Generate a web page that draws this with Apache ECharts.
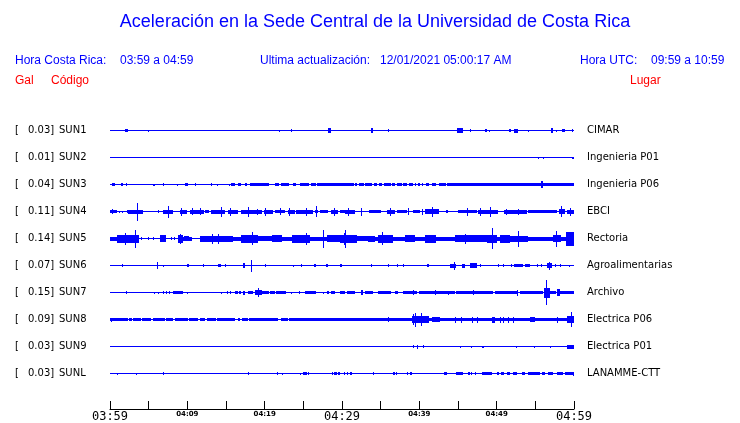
<!DOCTYPE html>
<html><head><meta charset="utf-8">
<script src="https://cdn.jsdelivr.net/npm/echarts@6/dist/echarts.min.js"></script>
<style>html,body{margin:0;padding:0;background:#fff}#c{width:740px;height:423px}</style>
</head><body><div id="c"></div>
<script>
// ---- Texts ----
const titleText = 'Aceleración en la Sede Central de la Universidad de Costa Rica';
const crLabel = 'Hora Costa Rica:';
const crRange = '03:59 a 04:59';
const updLabel = 'Ultima actualización:';
const updValue = '12/01/2021 05:00:17 AM';
const utcLabel = 'Hora UTC:';
const utcRange = '09:59 a 10:59';
const colGal = 'Gal';
const colCode = 'Código';
const colPlace = 'Lugar';

// ---- Stations ----
const stationCodes = ['SUN1','SUN2','SUN3','SUN4','SUN5','SUN6','SUN7','SUN8','SUN9','SUNL'];
const peakGal = ['0.03','0.01','0.04','0.11','0.14','0.07','0.15','0.09','0.03','0.03'];
const placeNames = ['CIMAR','Ingenieria P01','Ingenieria P06','EBCI','Rectoria','Agroalimentarias','Archivo','Electrica P06','Electrica P01','LANAMME-CTT'];

// ---- Time axis (minutes after 03:59) ----
const timeTicks = [0,5,10,15,20,25,30,35,40,45,50,55,60];
const timeTickLabels = ['03:59','','04:09','','04:19','','04:29','','04:39','','04:49','','04:59'];
const majorTickLabels = ['03:59','04:29','04:59'];

// ---- Trace envelopes: [start minute, end minute, half amplitude] ----
const sun1 = [[2.0,2.3,1.5],[4.9,5.0,1],[21.9,22.0,1],[23.4,23.5,1.5],[28.2,28.6,2.2],[33.8,34.0,2.5],[35.9,36.0,1.5],[44.9,45.6,2.3],[46.5,46.6,1.5],[48.5,48.7,1.5],[49.0,49.1,1],[51.6,51.8,1.5],[52.2,52.8,2],[54.1,54.2,1],[57.0,57.3,2.5],[57.7,57.8,1],[58.4,58.8,1.7],[59.7,59.9,1.5]];
const sun2 = [[55.4,55.5,1],[56.0,56.1,1],[59.8,59.95,1]];
const sun3 = [[0.2,0.65,1.7],[1.4,1.7,1.5],[2.1,2.25,1.5],[5.6,5.8,1],[6.85,6.95,1.5],[8.7,8.8,1],[9.7,10.05,1.2],[11.0,11.1,1.5],[13.0,13.1,1.2],[13.9,14.0,1],[15.4,15.5,1],[15.7,16.2,1.5],[16.5,17.0,1.2],[17.45,17.7,1.5],
  [18.1,20.5,1.7],[21.3,21.9,1.7],[22.1,23.1,1.7],[23.7,24.1,1.7],[24.6,25.7,1.7],[26.0,26.6,1.7],[26.8,31.5,1.7],[31.7,32.0,1.7],[32.2,32.9,1.7],[33.0,33.9,1.7],[34.2,34.5,1.7],[34.8,35.2,1.7],[35.4,36.3,1.7],[36.5,36.9,1.7],[37.1,37.7,1.7],[37.9,38.4,1.7],[38.6,39.2,1.7],[39.4,39.6,1.7],[39.8,40.1,1.7],[40.3,40.5,1.7],[40.9,41.2,1.7],[41.6,42.1,1.7],[42.5,43.4,1.7],[43.6,60,1.7],[55.7,56.0,3.5]];
const sun4 = [[0,0.9,1.5],[0.3,0.4,2.5],[1.2,1.3,1],[1.6,1.7,1],[2.2,2.8,1.5],[2.3,4.3,2],[3.5,3.6,9],[6.2,6.3,1.2],[6.8,8.2,2],[7.5,7.6,6],[9.05,9.9,2],[9.2,9.3,4],[10.3,12.1,2],[10.6,10.7,3.5],[11.6,11.7,3.5],[12.3,12.8,1.5],[13.1,14.9,2],[14.4,14.5,5],[15.2,16.6,2],[15.5,15.6,4],[17.0,19.6,2],[17.9,18.0,5],[19.0,19.1,3],[19.9,21.1,2],[20.1,20.2,4],[21.3,22.6,1.5],[22.0,22.1,3.5],[23.0,23.9,2],[23.2,23.3,4],[24.0,26.3,2],[25.3,25.4,4],[26.5,26.9,1.5],[26.6,26.7,5.5],[27.2,28.2,1.5],[28.6,29.5,2],[29.0,29.1,4],[29.7,30.4,1.5],[30.4,31.7,2],[30.8,30.9,4],[32.5,32.6,4],[33.5,35.1,1.5],[35.8,36.9,2],[36.2,36.3,4],[37.1,38.4,1.5],[38.55,38.65,3.5],[39.2,40.1,1.5],[40.3,40.5,3],[40.7,42.5,2.5],[41.6,41.7,5],[43.4,43.7,1.5],[45.0,47.4,1.8],[46.2,46.3,4],[47.6,50.2,2],[47.8,47.9,4],[49.1,49.2,5],[50.9,53.9,2],[51.2,51.3,3],[52.8,52.9,3],[54.1,57.8,1.5],[58.0,58.8,2.5],[58.3,58.4,5.5],[59.1,60,2],[59.5,59.6,4]];
const sun5 = [[0,3.7,2],[0.9,3.7,4],[1.9,2.0,6],[3.2,3.3,9],[4.0,4.1,1.5],[4.9,5.0,1.5],[5.6,5.7,1.5],[6.5,7.3,3.5],[7.9,8.0,1.5],[8.3,8.4,1.5],[8.75,10.6,2],[8.8,9.4,4],[9.1,9.2,5],[9.6,10.2,2.5],[11.6,60,2],[11.6,15.9,3],[13.2,13.3,5],[14.0,14.1,5],[16.9,19.1,4],[18.3,18.4,6.5],[19.1,20.9,2.5],[20.9,22.2,3.5],[23.5,25.9,4],[25.4,25.5,6],[27.5,27.6,9],[28.0,30.4,3.5],[30.2,30.3,6],[29.7,31.9,4],[30.4,30.5,9],[31.9,33.8,2.5],[33.4,34.3,3],[34.7,36.6,4],[35.2,35.3,6.5],[38.2,39.5,3.5],[40.7,42.2,4],[44.6,47.0,3.5],[45.9,46.0,5],[47.0,48.7,3.5],[48.7,50.0,4],[49.4,49.5,10.5],[50.4,51.7,4],[51.7,54.1,3],[52.8,52.9,8],[57.3,58.3,3.5],[57.7,57.8,8],[59.0,60,7]];
const sun6 = [[1.55,1.65,1.3],[6.05,6.15,3.5],[6.85,6.95,1],[9.95,10.2,1.5],[12.0,12.1,1.2],[14.0,14.3,1.5],[14.9,15.05,1.5],[17.2,17.4,2.5],[18.2,18.4,6],[20.0,20.1,1.5],[23.65,23.75,1],[24.75,24.85,1.2],[26.4,26.7,1.5],[27.9,28.15,1.5],[29.8,29.95,1.2],[33.8,33.9,1.5],[36.0,36.1,1.2],[37.05,37.15,1.2],[37.9,38.0,1.2],[41.0,41.3,1.5],[44.0,44.8,2],[44.5,44.6,4],[45.5,45.9,2],[46.6,47.4,2.5],[47.9,48.0,1.2],[50.2,50.3,1.2],[50.85,50.95,1.2],[51.8,52.0,1.5],[52.3,53.4,1.5],[53.7,54.3,1.5],[55.2,55.3,1.2],[55.7,55.8,1.2],[56.5,57.1,2.5],[56.75,56.85,4],[57.6,57.7,1.5],[58.15,58.25,1.5],[59.35,59.45,1]];
const sun7 = [[2.1,2.2,1.3],[5.7,5.8,1],[6.15,6.25,1],[6.8,7.0,1.5],[7.3,7.4,1.5],[7.6,7.8,1.5],[8.2,9.5,1.5],[9.9,10.0,1],[14.3,14.4,1],[15.1,15.2,1.5],[15.5,15.7,1.5],[16.2,16.5,1.5],[16.7,17.0,1.5],[17.2,17.45,2],[17.9,18.5,1.5],[18.7,19.6,2.5],[19.2,19.3,4.5],[19.6,20.5,1.5],[20.7,21.3,1.5],[21.5,22.8,1.5],[23.45,23.55,1],[24.5,24.6,1.3],[25.2,26.7,1.5],[27.55,27.65,1],[28.1,28.3,1.5],[28.6,29.1,1.5],[29.7,30.4,1.5],[30.6,31.7,1.5],[32.5,32.75,2.5],[33.0,34.0,1.5],[34.7,36.4,1.5],[36.9,37.2,1.5],[37.9,39.7,1.5],[39.2,39.3,2.5],[39.9,44.6,1.5],[42.0,42.2,2.5],[43.7,43.8,2],[44.8,49.5,1.5],[46.9,47.1,2.5],[49.8,52.6,1.5],[52.6,52.75,3],[53.0,56.0,1.5],[56.1,56.9,5],[56.4,56.5,12.5],[56.9,57.7,1.5],[57.8,58.2,3.5],[58.2,60,1.5]];
const sun8 = [[0.0,2.3,1.5],[0.1,0.2,2],[2.45,2.85,1.5],[2.95,4.0,1.5],[4.2,5.3,1.5],[5.6,7.05,1.5],[7.2,8.2,1.5],[8.4,9.0,1.5],[9.1,10.1,1.5],[10.2,11.4,1.5],[11.65,12.25,1.5],[12.5,13.75,1.5],[13.85,16.15,1.5],[16.5,16.8,1.5],[17.05,17.85,1.5],[17.95,21.75,1.5],[22.1,23.0,1.5],[23.15,60,1.5],[35.9,36.0,2.5],[39.0,41.2,3.5],[39.2,39.3,5.5],[39.5,39.6,7],[40.2,40.3,6.5],[41.6,42.7,2.5],[44.6,44.7,3],[45.45,45.55,3],[46.75,46.85,3],[47.4,47.5,3],[49.35,49.8,3],[50.4,50.5,3],[50.85,50.95,3],[51.5,51.6,3],[52.1,52.2,3],[54.3,54.95,2.5],[57.75,57.85,3],[59.05,60,3.5],[59.6,59.7,7.3]];
const sun9 = [[39.2,39.3,1.3],[39.65,39.85,2],[40.5,40.6,1.3],[45.2,45.3,1],[46.7,46.8,1],[48.05,48.3,1],[52.55,52.65,1],[54.8,54.9,1],[56.85,56.95,1],[59.1,60,2]];
const sunl = [[0.85,0.95,1],[3.3,3.4,1],[6.85,6.95,1.5],[17.85,17.95,1.3],[21.6,21.7,1.3],[22.25,22.35,1],[24.55,24.65,1],[25.0,25.45,1.7],[25.55,25.65,1.3],[28.75,28.85,1.3],[29.0,29.3,1.7],[29.5,29.75,1.5],[30.2,30.4,1.5],[30.6,30.8,1.5],[31.0,31.25,1.5],[34.0,34.1,1.3],[36.6,36.8,1.3],[37.0,37.15,1.3],[38.35,38.5,1.5],[38.8,39.0,1.5],[43.2,43.55,1.5],[44.75,45.6,1.7],[46.3,46.5,1.5],[46.65,46.8,1.5],[47.15,47.25,1.3],[48.05,49.35,1.7],[50.0,50.3,1.5],[50.5,51.0,1.5],[51.3,51.7,1.5],[52.15,52.6,1.5],[53.25,53.65,1.5],[54.1,55.6,1.7],[55.8,56.25,1.5],[56.7,57.3,1.5],[57.75,58.6,1.5],[58.85,60,1.7],[59.85,60,2]];

const traces = [sun1, sun2, sun3, sun4, sun5, sun6, sun7, sun8, sun9, sunl];

// ---- build series data ----
const segs = [];
traces.forEach((list, i) => {
  segs.push([i, 0, 60, 0.5]);
  list.forEach(s => segs.push([i, s[0], s[1], s[2]]));
});

const BLUE = '#0000ff';
const RED = '#ff0000';
const ROW = 27;

const chart = echarts.init(document.getElementById('c'), null, {renderer: 'canvas'});

const headerFont = 'Liberation Sans, Arial, sans-serif';
function txt(x, y, text, size, color, align) {
  return {type: 'text', x: x, y: y, style: {text: text, fontSize: size, fontFamily: headerFont, fill: color, align: align || 'left', verticalAlign: 'middle'}};
}

chart.setOption({
  animation: false,
  backgroundColor: '#fff',
  grid: [
    {left: 110, right: 166, top: 117, bottom: 36, containLabel: false},
    {left: 110, right: 166, top: 401, bottom: 14, containLabel: false}
  ],
  xAxis: [
    {gridIndex: 0, type: 'value', min: 0, max: 60, show: false},
    {gridIndex: 1, type: 'value', min: 0, max: 60, interval: 5,
     axisLine: {show: true, lineStyle: {color: '#000', width: 1}},
     axisTick: {show: true, inside: true, length: 8, lineStyle: {color: '#000', width: 1}},
     splitLine: {show: false},
     axisLabel: {
       show: true, margin: 1, showMinLabel: true, showMaxLabel: true,
       formatter: function (v) {
         const idx = timeTicks.indexOf(v);
         const lab = idx >= 0 ? timeTickLabels[idx] : '';
         if (!lab) return '';
         return majorTickLabels.indexOf(lab) >= 0 ? '{big|' + lab + '}' : '{small|' + lab + '}';
       },
       rich: {
         big: {fontFamily: 'DejaVu Sans Mono', fontSize: 12, color: '#000', lineHeight: 13},
         small: {fontFamily: 'DejaVu Sans', fontSize: 7, fontWeight: 'bold', color: '#000', lineHeight: 9}
       }
     }}
  ],
  yAxis: [
    {gridIndex: 0, type: 'value', min: 0, max: ROW * stationCodes.length, inverse: true, show: false},
    {gridIndex: 0, type: 'category', position: 'left', inverse: true, data: stationCodes,
     axisLine: {show: false}, axisTick: {show: false}, splitLine: {show: false},
     axisLabel: {
       margin: 95, align: 'left', interval: 0,
       formatter: function (v, i) { return '{a|[}{v|' + peakGal[i] + ']}{n|' + v + '}'; },
       rich: {
         a: {width: 13, fontFamily: 'DejaVu Sans', fontSize: 10, color: '#000'},
         v: {width: 31, fontFamily: 'DejaVu Sans', fontSize: 10, color: '#000'},
         n: {fontFamily: 'DejaVu Sans', fontSize: 10, color: '#000'}
       }
     }},
    {gridIndex: 0, type: 'category', position: 'right', inverse: true, data: placeNames,
     axisLine: {show: false}, axisTick: {show: false}, splitLine: {show: false},
     axisLabel: {margin: 13, align: 'left', interval: 0, fontFamily: 'DejaVu Sans', fontSize: 10, color: '#000'}},
    {gridIndex: 1, type: 'value', min: 0, max: 1, show: false}
  ],
  series: [{
    type: 'custom',
    xAxisIndex: 0, yAxisIndex: 0,
    clip: false,
    encode: {x: [1, 2], y: 3},
    data: segs,
    renderItem: function (params, api) {
      const i = api.value(0), t0 = api.value(1), t1 = api.value(2), a = api.value(3);
      const c = ROW / 2 + ROW * i;
      const p0 = api.coord([t0, c - a]);
      const p1 = api.coord([t1, c + a]);
      const x0 = Math.round(p0[0]);
      const w = Math.max(1, Math.round(p1[0]) - x0);
      const yTop = Math.round(Math.min(p0[1], p1[1]));
      const yBot = Math.round(Math.max(p0[1], p1[1]));
      return {type: 'rect', shape: {x: x0, y: yTop, width: w, height: Math.max(1, yBot - yTop)}, style: {fill: BLUE}};
    }
  }],
  graphic: [
    txt(375, 22, titleText, 18, BLUE, 'center'),
    txt(15, 61, crLabel, 12, BLUE),
    txt(120, 61, crRange, 12, BLUE),
    txt(260, 61, updLabel, 12, BLUE),
    txt(380, 61, updValue, 12, BLUE),
    txt(580, 61, utcLabel, 12, BLUE),
    txt(651, 61, utcRange, 12, BLUE),
    txt(15, 81, colGal, 12, RED),
    txt(51, 81, colCode, 12, RED),
    txt(630, 81, colPlace, 12, RED)
  ]
});
</script>
</body></html>
